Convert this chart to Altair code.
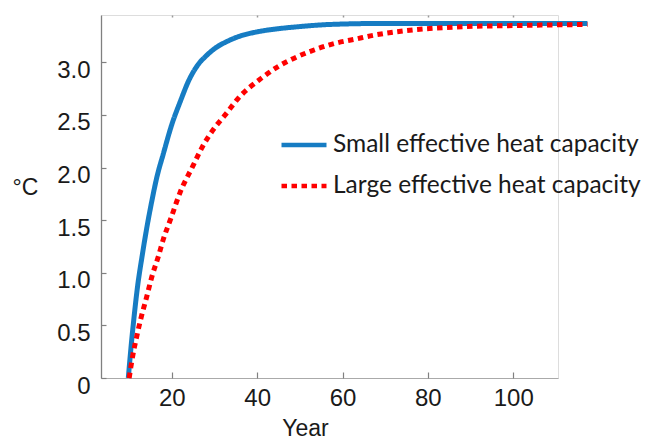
import altair as alt
import pandas as pd

# ---- data ----
series_names = ["Small effective heat capacity", "Large effective heat capacity"]

small_years = [9.8, 10.5, 11.2, 12.0, 13.0, 14.1, 15.3, 16.5, 18.0, 20.0, 22.0, 24.0,
               26.0, 28.0, 30.0, 33.0, 36.0, 40.0, 45.0, 50.0, 57.0, 70.0, 117.4]
small_vals = [0.0, 0.32, 0.60, 0.88, 1.15, 1.42, 1.68, 1.91, 2.13, 2.41, 2.63, 2.83,
              2.97, 3.06, 3.13, 3.20, 3.25, 3.29, 3.32, 3.34, 3.36, 3.37, 3.37]

large_years = [10.0, 10.7, 11.8, 12.9, 14.1, 15.3, 16.8, 18.1, 19.8, 21.9, 25.0, 27.2,
               29.7, 32.7, 35.6, 41.0, 44.9, 49.2, 53.5, 58.2, 62.9, 67.6, 74.6,
               89.1, 100.7, 117.4]
large_vals = [0.0, 0.18, 0.40, 0.59, 0.77, 0.96, 1.15, 1.33, 1.52, 1.76, 2.02, 2.20,
              2.36, 2.51, 2.66, 2.85, 2.96, 3.05, 3.12, 3.18, 3.22, 3.26, 3.30,
              3.34, 3.35, 3.36]

x_ticks = [20, 40, 60, 80, 100]
y_ticks = [0, 0.5, 1.0, 1.5, 2.0, 2.5, 3.0]
x_domain = [3.4, 110.5]
y_domain = [0, 3.45]

rows = []
for yr, v in zip(small_years, small_vals):
    rows.append({"Year": yr, "T": v, "series": series_names[0]})
for yr, v in zip(large_years, large_vals):
    rows.append({"Year": yr, "T": v, "series": series_names[1]})
df = pd.DataFrame(rows)

W, H = 457, 363
AXC = "#808080"
TXT = "#1a1a1a"
LABEL_FONT = "Liberation Sans"
LEG_FONT = "Lato"

xscale = alt.Scale(domain=x_domain, nice=False, zero=False)
yscale = alt.Scale(domain=y_domain, nice=False, zero=True)

legend_cfg = dict(orient="none", legendX=178, legendY=105, title=None,
                  symbolType="stroke", symbolSize=2025, symbolStrokeWidth=4.5,
                  labelFont=LEG_FONT, labelFontSize=24.5, labelColor=TXT,
                  labelOffset=4, padding=0, rowPadding=4, labelLimit=400)

base = alt.Chart(df)

main = base.mark_line(strokeWidth=5, clip=False, interpolate="monotone").encode(
    x=alt.X("Year:Q", scale=xscale,
            axis=alt.Axis(orient="bottom", values=x_ticks, ticks=False, grid=False,
                          domainColor="#aaaaaa", domainWidth=1.2,
                          labelFont=LABEL_FONT, labelFontSize=24, labelColor=TXT,
                          labelPadding=8, title="Year", titleFont=LABEL_FONT,
                          titleFontSize=23, titleFontWeight="normal", titleColor=TXT,
                          titleX=204, titleY=57, titleAnchor="middle",
                          titleAlign="center", titleBaseline="alphabetic")),
    y=alt.Y("T:Q", scale=yscale,
            axis=alt.Axis(orient="left", values=y_ticks, ticks=False, grid=False,
                          domainColor=AXC, domainWidth=1.3,
                          labelFont=LABEL_FONT, labelFontSize=24, labelColor=TXT,
                          labelPadding=11, labelOffset=8,
                          labelExpr="datum.value == 0 ? '0' : format(datum.value, '.1f')",
                          title="°C", titleFont=LABEL_FONT, titleFontSize=23,
                          titleFontWeight="normal", titleColor=TXT, titleAngle=0,
                          titleAlign="left", titleBaseline="middle",
                          titleX=-89, titleY=172)),
    color=alt.Color("series:N",
                    scale=alt.Scale(domain=series_names, range=["#167cc3", "#ff0000"]),
                    legend=alt.Legend(**legend_cfg)),
    strokeDash=alt.StrokeDash("series:N",
                              scale=alt.Scale(domain=series_names,
                                              range=[[1, 0], [5.5, 4.5]]),
                              legend=alt.Legend(**legend_cfg)),
    detail="series:N",
    order=alt.Order("Year:Q"),
)

inward = base.mark_line(opacity=0).encode(
    x=alt.X("Year:Q", scale=xscale,
            axis=alt.Axis(orient="top", offset=-H, values=x_ticks, ticks=True,
                          tickSize=6, tickColor=AXC, tickWidth=1.2, labels=False,
                          domain=False, grid=False, title=None)),
    y=alt.Y("T:Q", scale=yscale,
            axis=alt.Axis(orient="right", offset=-W, values=y_ticks, ticks=True,
                          tickSize=5, tickColor=AXC, tickWidth=1.2, labels=False,
                          domain=False, grid=False, title=None)),
    detail="series:N",
)

topdots = base.mark_line(opacity=0).encode(
    x=alt.X("Year:Q", scale=xscale,
            axis=alt.Axis(orient="top", offset=-2, values=x_ticks, ticks=True,
                          tickSize=2, tickColor="#999999", tickWidth=1.5,
                          labels=False, domain=False, grid=False, title=None)),
    y=alt.Y("T:Q", scale=yscale, axis=None),
    detail="series:N",
)

chart = alt.layer(main, inward, topdots).resolve_axis(
    x="independent", y="independent"
).properties(
    width=W, height=H,
    autosize=alt.AutoSizeParams(type="none"),
    padding={"left": 93, "top": 7, "right": 83, "bottom": 62},
).configure_view(stroke=None).configure(background="white")

chart.save("out.html", embed_options={"renderer": "svg", "actions": False})
